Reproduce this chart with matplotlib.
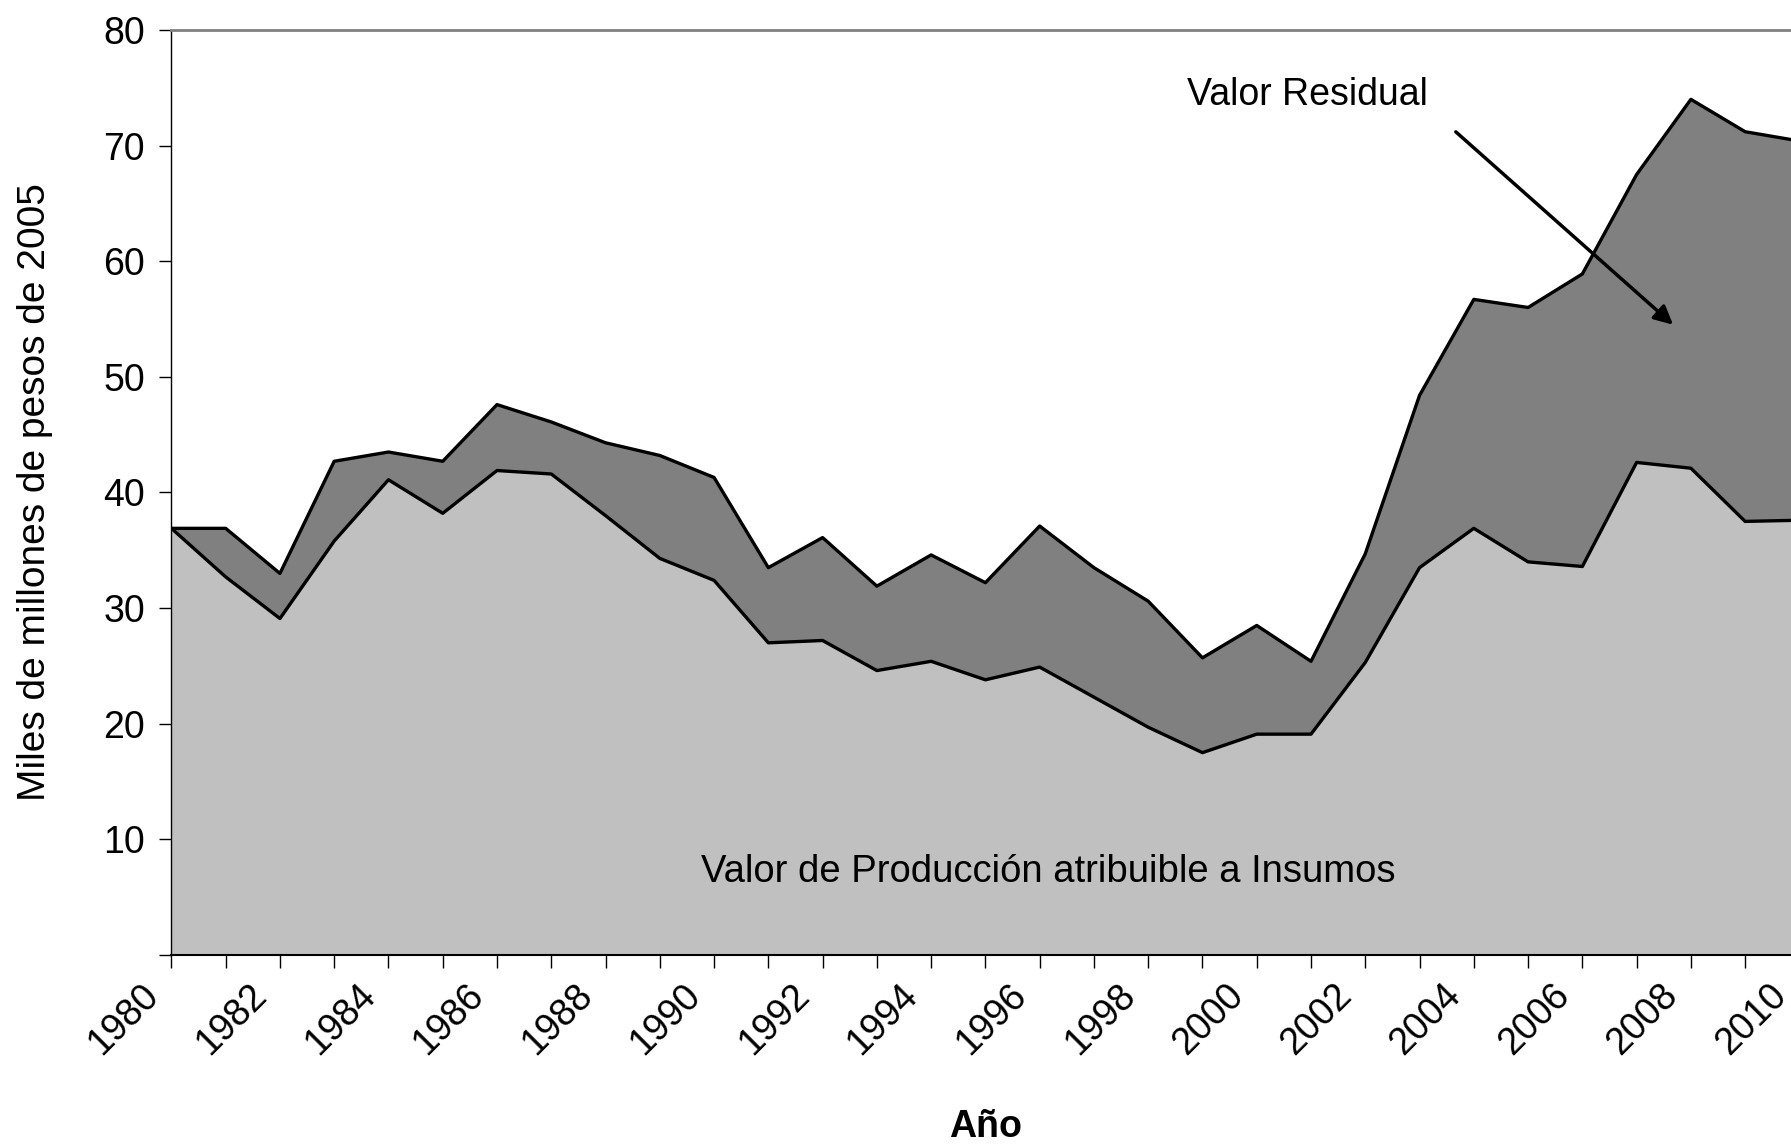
import matplotlib
matplotlib.use("Agg")
import matplotlib.pyplot as plt
import matplotlib.transforms as mtransforms
import numpy as np

plt.rcParams['font.family'] = ['Liberation Sans', 'DejaVu Sans']

# Data (miles de millones de pesos de 2005)
years = list(range(1980, 2011))
insumos = [36.9, 32.7, 29.1, 35.8, 41.1, 38.2, 41.9, 41.6, 38.0, 34.3,
           32.4, 27.0, 27.2, 24.6, 25.4, 23.8, 24.9, 22.3, 19.7, 17.5,
           19.1, 19.1, 25.3, 33.5, 36.9, 34.0, 33.6, 42.6, 42.1, 37.5,
           37.6]
total = [36.9, 36.9, 33.0, 42.7, 43.5, 42.7, 47.6, 46.1, 44.3, 43.2,
         41.3, 33.5, 36.1, 31.9, 34.6, 32.2, 37.1, 33.5, 30.6, 25.7,
         28.5, 25.4, 34.7, 48.4, 56.7, 56.0, 58.9, 67.5, 74.0, 71.2,
         70.4]
ytick_vals = [0, 10, 20, 30, 40, 50, 60, 70, 80]
ytick_labels = ['', '10', '20', '30', '40', '50', '60', '70', '80']
xlabel_years = list(range(1980, 2011, 2))

years = np.array(years)
insumos = np.array(insumos)
total = np.array(total)

fig = plt.figure(figsize=(17.91, 11.44), dpi=100)
# right edge of plot area falls just outside the picture (cropped like the reference)
ax = fig.add_axes([0.0957, 0.1652, 0.909, 0.8086])

ax.fill_between(years, 0, insumos, color='#C0C0C0', lw=0)
ax.fill_between(years, insumos, total, color='#808080', lw=0)
ax.plot(years, insumos, color='black', lw=2.4)
ax.plot(years, total, color='black', lw=2.4)

ax.set_xlim(1980, 2010)
ax.set_ylim(0, 80)

ax.set_yticks(ytick_vals)
ax.set_yticklabels(ytick_labels)
ax.set_xticks(years)
ax.set_xticklabels([str(y) if y in xlabel_years else '' for y in years],
                   rotation=45, ha='right', va='top')
ax.tick_params(axis='both', labelsize=27, length=9, width=1, direction='out')
ax.tick_params(axis='x', pad=7)
ax.tick_params(axis='y', pad=10)

# nudge rotated year labels a little to the left, as in the original
shift = mtransforms.ScaledTranslation(-6 / 100, 0, fig.dpi_scale_trans)
for lab in ax.get_xticklabels():
    lab.set_transform(lab.get_transform() + shift)

ax.spines['right'].set_visible(False)
ax.spines['top'].set_color('#808080')
ax.spines['top'].set_linewidth(2)
ax.spines['left'].set_linewidth(1)
ax.spines['bottom'].set_linewidth(1.5)

ax.set_ylabel('Miles de millones de pesos de 2005', fontsize=28, labelpad=36)
ax.set_xlabel('Año', fontsize=27, fontweight='bold', labelpad=34)

ax.text(2000.93, 74.4, 'Valor Residual', fontsize=27, ha='center', va='center')
ax.annotate('', xy=(2007.71, 54.35), xytext=(2003.63, 71.35),
            arrowprops=dict(arrowstyle='-|>', color='black', lw=2.5,
                            mutation_scale=28))
ax.text(1996.16, 7.2, 'Valor de Producción atribuible a Insumos',
        fontsize=27.5, ha='center', va='center')

fig.savefig('out.png', dpi=100)
